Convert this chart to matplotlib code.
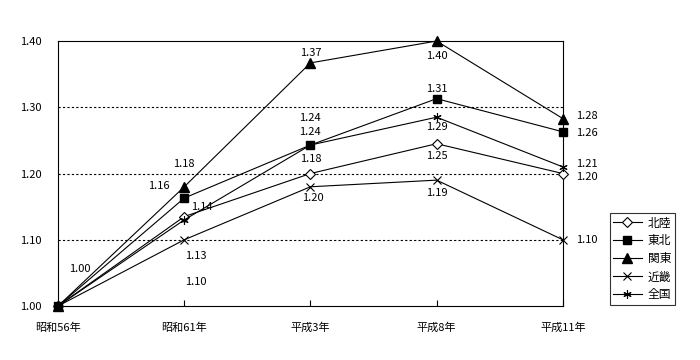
import matplotlib
matplotlib.use('Agg')
import matplotlib.pyplot as plt

plt.rcParams['font.family'] = ['Noto Sans CJK JP', 'DejaVu Sans']

# データ
years = ['昭和56年', '昭和61年', '平成3年', '平成8年', '平成11年']
hokuriku = [1.00, 1.135, 1.20, 1.245, 1.20]
tohoku = [1.00, 1.163, 1.243, 1.313, 1.263]
kanto = [1.00, 1.18, 1.367, 1.40, 1.283]
kinki = [1.00, 1.10, 1.18, 1.19, 1.10]
zenkoku = [1.00, 1.13, 1.243, 1.285, 1.21]

x = list(range(len(years)))

fig = plt.figure(figsize=(7, 3.6), dpi=100)
ax = fig.add_axes([0.083, 0.15, 0.721, 0.736])

ax.plot(x, hokuriku, color='black', lw=0.8, marker='D', ms=5.5, mfc='white', mec='black', mew=0.8,
        label='北陸', clip_on=False, zorder=3)
ax.plot(x, kanto, color='black', lw=0.8, marker='^', ms=6.5, mfc='black', mec='black',
        label='関東', clip_on=False, zorder=3)
ax.plot(x, kinki, color='black', lw=0.8, marker='x', ms=5.5, mew=0.8,
        label='近畿', clip_on=False, zorder=3)
ax.plot(x, zenkoku, color='black', lw=0.8, marker=(6, 2, 0), ms=6, mew=0.8,
        label='全国', clip_on=False, zorder=3)
ax.plot(x, tohoku, color='black', lw=0.8, marker='s', ms=6, mfc='black', mec='black',
        label='東北', clip_on=False, zorder=4)

# データラベル（表示位置は元の図に合わせる）
labels = [
    (0, 1.00, '1.00', 22, 37),
    (1, 1.18, '1.18', 0, 23),
    (1, 1.163, '1.16', -25, 12),
    (1, 1.135, '1.14', 18, 10),
    (1, 1.13, '1.13', 12, -36),
    (1, 1.10, '1.10', 12, -42),
    (2, 1.367, '1.37', 0, 10),
    (2, 1.243, '1.24', 0, 27),
    (2, 1.243, '1.24', 0, 13),
    (2, 1.20, '1.18', 0, 15),
    (2, 1.18, '1.20', 2, -11),
    (3, 1.40, '1.40', 0, -15),
    (3, 1.313, '1.31', 0, 10),
    (3, 1.285, '1.29', 0, -10),
    (3, 1.245, '1.25', 0, -12),
    (3, 1.19, '1.19', 0, -13),
    (4, 1.283, '1.28', 24, 3),
    (4, 1.263, '1.26', 24, -1),
    (4, 1.21, '1.21', 24, 3),
    (4, 1.20, '1.20', 24, -3),
    (4, 1.10, '1.10', 24, 0),
]
for xi, yi, txt, dx, dy in labels:
    ax.annotate(txt, (xi, yi), xytext=(dx, dy), textcoords='offset pixels',
                ha='center', va='center', fontsize=8)

ax.set_xlim(0, 4)
ax.set_ylim(1.00, 1.40)
ax.set_xticks(x)
ax.set_xticklabels(years, fontsize=8)
ax.set_yticks([1.00, 1.10, 1.20, 1.30, 1.40])
ax.set_yticklabels(['1.00', '1.10', '1.20', '1.30', '1.40'], fontsize=8)
ax.tick_params(axis='x', direction='in', length=4, pad=12)
ax.tick_params(axis='y', length=0, pad=12)
for yv in [1.10, 1.20, 1.30]:
    ax.axhline(yv, color='black', lw=0.8, ls=(0, (2, 2)), zorder=0)
for s in ax.spines.values():
    s.set_linewidth(0.8)

handles, names = ax.get_legend_handles_labels()
order = [names.index(n) for n in ['北陸', '東北', '関東', '近畿', '全国']]
leg = ax.legend([handles[i] for i in order], [names[i] for i in order],
                loc='upper left', bbox_to_anchor=(1.093, 0.351), fontsize=8.5,
                frameon=True, fancybox=False, edgecolor='black', handlelength=2.4,
                handletextpad=0.5, borderpad=0.3, labelspacing=0.42, borderaxespad=0)
leg.get_frame().set_linewidth(0.8)

fig.savefig('out.png', dpi=100, facecolor='white')
